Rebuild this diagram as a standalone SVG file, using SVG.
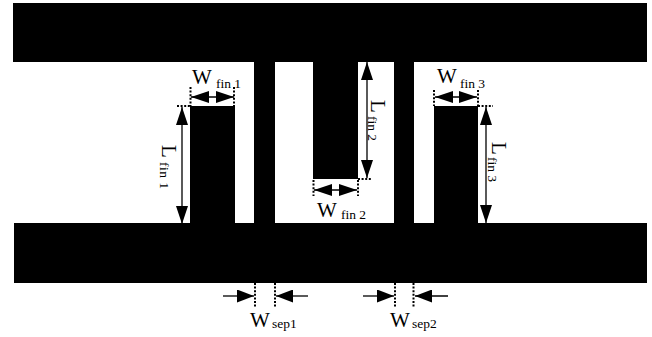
<svg xmlns="http://www.w3.org/2000/svg" width="652" height="337" viewBox="0 0 652 337">
<defs>
<marker id="a" viewBox="0 0 18 12" refX="18" refY="6" markerWidth="18" markerHeight="12" markerUnits="userSpaceOnUse" orient="auto-start-reverse"><path d="M0 0L18 6L0 12Z" fill="#000"/></marker>
<marker id="c" viewBox="0 0 17 13" refX="17" refY="6.500" markerWidth="17" markerHeight="13" markerUnits="userSpaceOnUse" orient="auto"><path d="M0 0L17 6.500L0 13Z" fill="#000"/></marker>
</defs>
<style>
.b{fill:#000}
.l{stroke:#000;stroke-width:1.3;fill:none;marker-end:url(#a);marker-start:url(#a)}
.s{stroke:#000;stroke-width:1.3;fill:none;marker-end:url(#c)}
.d{stroke:#000;stroke-width:2;stroke-dasharray:2 1.600;fill:none}
text{font-family:"Liberation Serif","Times New Roman",serif;fill:#000}
.m{font-size:21px}
.u{font-size:13.500px}
</style>
<rect width="652" height="337" fill="#fff"/>
<g id="top-bar"><rect class="b" x="13" y="3" width="634" height="59"/></g>
<g id="bottom-bar"><rect class="b" x="14" y="223" width="633" height="60"/></g>
<g id="separator-1"><rect class="b" x="254" y="62" width="21" height="161"/></g>
<g id="separator-2"><rect class="b" x="394" y="62" width="20" height="161"/></g>
<g id="fin-1"><rect class="b" x="190" y="106" width="45" height="117"/></g>
<g id="fin-2"><rect class="b" x="313" y="62" width="45" height="117"/></g>
<g id="fin-3"><rect class="b" x="434" y="106" width="44" height="117"/></g>
<g id="connectors">
<path class="l" d="M191 97H234"/>
<path class="l" d="M182 107V224"/>
<path class="l" d="M314 190H357"/>
<path class="l" d="M367 62V178"/>
<path class="l" d="M435 97H477"/>
<path class="l" d="M486 107V223"/>
<path class="s" d="M223 296H254"/>
<path class="s" d="M308 296H276"/>
<path class="s" d="M363 296H394"/>
<path class="s" d="M448 296H415"/>
<path class="d" d="M190.500 87V106M234 87V106M177 106H190M313.500 180V196M358 180V196M358 179H372M434 90V106M478 90V106M478 106H493M255 283V307M275 283V307M395 283V307M413.500 283V307"/>
</g>
<g id="labels">
<text class="m" x="192" y="84">W</text><text class="u" x="216" y="88">fin 1</text>
<text class="m" x="317" y="217">W</text><text class="u" x="341" y="219">fin 2</text>
<text class="m" x="437" y="83">W</text><text class="u" x="460" y="88">fin 3</text>
<text class="m" x="250" y="327">W</text><text class="u" x="272" y="328">sep1</text>
<text class="m" x="390" y="327">W</text><text class="u" x="412" y="328">sep2</text>
<text class="m" transform="translate(162 145) rotate(90)">L</text><text class="u" transform="translate(160 162) rotate(90)" letter-spacing="0.500">fin 1</text>
<text class="m" transform="translate(371 100) rotate(90)">L</text><text class="u" transform="translate(368 116) rotate(90)">fin 2</text>
<text class="m" transform="translate(492 142) rotate(90)">L</text><text class="u" transform="translate(488 157) rotate(90)">fin 3</text>
</g>
</svg>
